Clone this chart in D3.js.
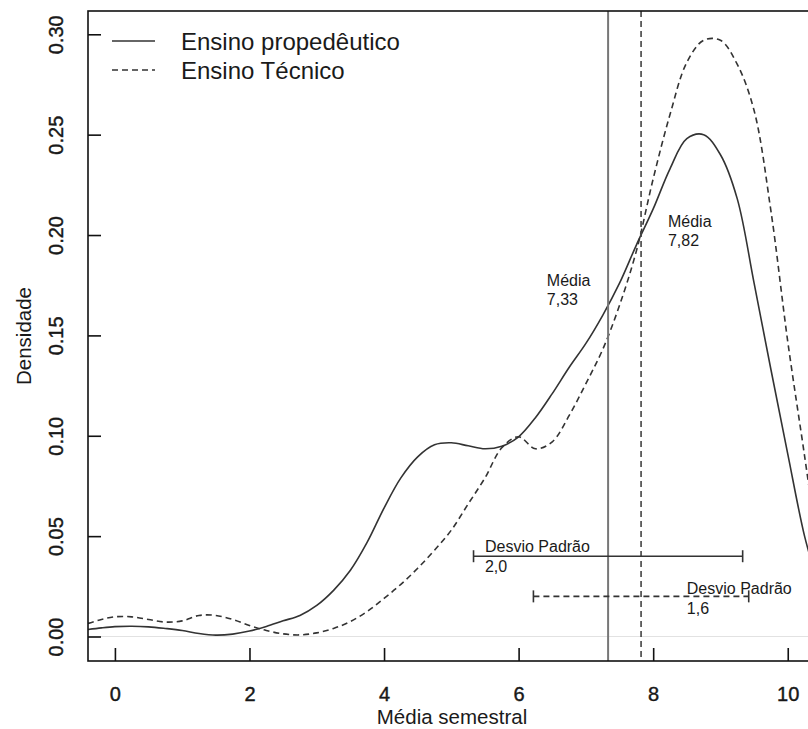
<!DOCTYPE html>
<html>
<head>
<meta charset="utf-8">
<script src="https://cdn.jsdelivr.net/npm/d3@7"></script>
<style>
    body { margin: 0; background: #fff; }
    text { font-family: "Liberation Sans", Arial, Helvetica, sans-serif; fill: #1a1a1a; }
</style>
</head>
<body>
<svg id="chart" width="808" height="729"></svg>
<script>
// density estimates
const xGrid = [-0.4, -0.2, 0, 0.25, 0.5, 0.75, 1, 1.25, 1.5, 1.75, 2, 2.25, 2.5, 2.75, 3, 3.25, 3.5, 3.75,
    4, 4.25, 4.5, 4.75, 5, 5.25, 5.5, 5.75, 6, 6.25, 6.5, 6.75, 7, 7.25, 7.5, 7.75, 8, 8.25, 8.5, 8.75,
    9, 9.25, 9.5, 9.75, 10, 10.25, 10.42];
const densPropedeutico = [0.0035, 0.0043, 0.0049, 0.0051, 0.0048, 0.004, 0.003, 0.0015, 0.0007, 0.0012,
    0.0027, 0.005, 0.0078, 0.0105, 0.0155, 0.023, 0.033, 0.047, 0.064, 0.079, 0.0895, 0.0955, 0.0965, 0.095,
    0.0935, 0.0948, 0.0995, 0.109, 0.121, 0.134, 0.146, 0.16, 0.176, 0.195, 0.213, 0.233, 0.248, 0.25,
    0.24, 0.218, 0.176, 0.133, 0.091, 0.05, 0.03];
const densTecnico = [0.0065, 0.0085, 0.0098, 0.0098, 0.0085, 0.0072, 0.0078, 0.0105, 0.0105, 0.0085,
    0.0055, 0.003, 0.0013, 0.0008, 0.0018, 0.004, 0.0075, 0.0125, 0.019, 0.026, 0.034, 0.043, 0.053, 0.066,
    0.079, 0.094, 0.0995, 0.0935, 0.097, 0.11, 0.126, 0.143, 0.165, 0.192, 0.228, 0.26, 0.286, 0.297,
    0.297, 0.285, 0.262, 0.212, 0.147, 0.09, 0.05];

const seriesNames = ["Ensino propedêutico", "Ensino Técnico"];
const means = [7.33, 7.82];
const meanLabels = ["7,33", "7,82"];
const sds = [2.0, 1.6];
const sdLabels = ["2,0", "1,6"];
const sdLevels = [0.04, 0.02];

const xTicks = [0, 2, 4, 6, 8, 10];
const yTicks = [0, 0.05, 0.10, 0.15, 0.20, 0.25, 0.30];

const svg = d3.select("#chart");
const mLeft = 88, mRight = 816, mTop = 11, mBottom = 661;

const x = d3.scaleLinear().domain([-0.4, 10.42]).range([mLeft, mRight]);
const y = d3.scaleLinear().domain([-0.0122, 0.3116]).range([mBottom, mTop]);

svg.append("defs").append("clipPath").attr("id", "plotclip")
    .append("rect").attr("x", mLeft).attr("y", mTop).attr("width", mRight - mLeft).attr("height", mBottom - mTop);

const plot = svg.append("g").attr("clip-path", "url(#plotclip)");

// zero line
plot.append("line")
    .attr("x1", mLeft).attr("x2", mRight)
    .attr("y1", y(0)).attr("y2", y(0))
    .attr("stroke", "#e2e2e2").attr("stroke-width", 1.2);

const line = d3.line()
    .x((d, i) => x(xGrid[i]))
    .y(d => y(d))
    .curve(d3.curveCatmullRom);

plot.append("path").datum(densPropedeutico)
    .attr("d", line).attr("fill", "none")
    .attr("stroke", "#333").attr("stroke-width", 1.6);

plot.append("path").datum(densTecnico)
    .attr("d", line).attr("fill", "none")
    .attr("stroke", "#333").attr("stroke-width", 1.6)
    .attr("stroke-dasharray", "6,4");

// mean lines
plot.append("line")
    .attr("x1", x(means[0])).attr("x2", x(means[0]))
    .attr("y1", mTop).attr("y2", mBottom)
    .attr("stroke", "#777").attr("stroke-width", 2);
plot.append("line")
    .attr("x1", x(means[1])).attr("x2", x(means[1]))
    .attr("y1", mTop).attr("y2", mBottom)
    .attr("stroke", "#444").attr("stroke-width", 1.6)
    .attr("stroke-dasharray", "6,4");

// standard deviation bars
sds.forEach((s, i) => {
    const g = plot.append("g");
    const yy = y(sdLevels[i]);
    g.append("line")
        .attr("x1", x(means[i] - s)).attr("x2", x(means[i] + s))
        .attr("y1", yy).attr("y2", yy)
        .attr("stroke", "#333").attr("stroke-width", 1.6)
        .attr("stroke-dasharray", i == 1 ? "6,4" : null);
    [means[i] - s, means[i] + s].forEach(v => {
        g.append("line")
            .attr("x1", x(v)).attr("x2", x(v))
            .attr("y1", yy - 6).attr("y2", yy + 6)
            .attr("stroke", "#333").attr("stroke-width", 1.6);
    });
});

// annotations
const meanTextPos = [[6.42, 0.1745], [8.22, 0.204]];
meanTextPos.forEach((p, i) => {
    const t = svg.append("text").attr("x", x(p[0])).attr("y", y(p[1])).style("font-size", "16px");
    t.append("tspan").attr("x", x(p[0])).text("Média");
    t.append("tspan").attr("x", x(p[0])).attr("dy", 19).text(meanLabels[i]);
});
const sdTextPos = [[5.5, 0.0423], [8.5, 0.0214]];
sdTextPos.forEach((p, i) => {
    const t = svg.append("text").attr("x", x(p[0])).attr("y", y(p[1])).style("font-size", "16px");
    t.append("tspan").attr("x", x(p[0])).text("Desvio Padrão");
    t.append("tspan").attr("x", x(p[0])).attr("dy", 20).text(sdLabels[i]);
});

// box
svg.append("rect")
    .attr("x", mLeft).attr("y", mTop)
    .attr("width", mRight - mLeft).attr("height", mBottom - mTop)
    .attr("fill", "none").attr("stroke", "#111").attr("stroke-width", 1.6);

// axes, ticks inward
const xAxis = svg.append("g").attr("transform", `translate(0,${mBottom})`)
    .call(d3.axisBottom(x).tickValues(xTicks).tickSizeInner(-13).tickSizeOuter(0).tickPadding(26).tickFormat(d3.format("d")));
xAxis.select(".domain").remove();
xAxis.selectAll("line").attr("stroke", "#111").attr("stroke-width", 1.6);
xAxis.selectAll("text").style("font-size", "20px").attr("fill", "#111")
    .attr("stroke", "#111").attr("stroke-width", 0.4);

const yAxis = svg.append("g").attr("transform", `translate(${mLeft},0)`)
    .call(d3.axisLeft(y).tickValues(yTicks).tickSizeInner(-13).tickSizeOuter(0).tickFormat(d3.format(".2f")));
yAxis.select(".domain").remove();
yAxis.selectAll("line").attr("stroke", "#111").attr("stroke-width", 1.6);
yAxis.selectAll("text")
    .attr("x", null).attr("dy", null)
    .attr("text-anchor", "middle")
    .attr("transform", "translate(-25,0) rotate(-90)")
    .style("font-size", "20px").attr("fill", "#111")
    .attr("stroke", "#111").attr("stroke-width", 0.4);

// axis titles
svg.append("text")
    .attr("x", (mLeft + mRight) / 2).attr("y", 724)
    .attr("text-anchor", "middle")
    .style("font-size", "20.5px")
    .text("Média semestral");
svg.append("text")
    .attr("transform", `translate(31,${(mTop + mBottom) / 2}) rotate(-90)`)
    .attr("text-anchor", "middle")
    .style("font-size", "20.5px")
    .text("Densidade");

// legend
const legend = svg.append("g");
seriesNames.forEach((name, i) => {
    const ly = 41 + i * 29;
    legend.append("line")
        .attr("x1", 112).attr("x2", 155)
        .attr("y1", ly).attr("y2", ly)
        .attr("stroke", "#333").attr("stroke-width", 1.6)
        .attr("stroke-dasharray", i == 1 ? "6,4" : null);
    legend.append("text")
        .attr("x", 181).attr("y", ly + 9)
        .style("font-size", "24px")
        .text(name);
});
</script>
</body>
</html>
